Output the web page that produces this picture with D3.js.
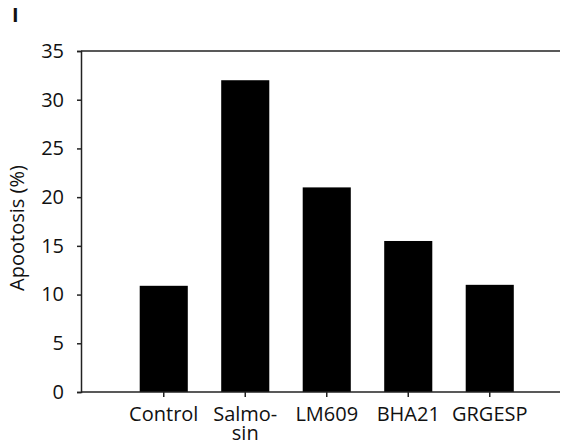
<!DOCTYPE html>
<html>
<head>
<meta charset="utf-8">
<script src="https://cdn.jsdelivr.net/npm/d3@7"></script>
<style>
  body { margin: 0; background: #fff; }
  text { font-family: "Open Sans", "Noto Sans", sans-serif; fill: #111; }
</style>
</head>
<body>
<div id="chart"></div>
<script>
const categories = ['Control', 'Salmosin', 'LM609', 'BHA21', 'GRGESP'];
const apoptosis = [10.9, 32.0, 21.0, 15.5, 11.0];
const yTicks = [0, 5, 10, 15, 20, 25, 30, 35];

const width = 564;
const height = 445;
const margin = { top: 51, bottom: 53, left: 81, right: 4 };
const fontSize = 20;

const svg = d3.select('#chart')
  .append('svg')
  .attr('width', width)
  .attr('height', height);

const x = d3.scaleBand()
  .domain(categories)
  .range([123, 530.5])
  .paddingInner(0.41)
  .paddingOuter(0.205);

const y = d3.scaleLinear()
  .domain([0, 35])
  .range([height - margin.bottom, margin.top]);

// bars
svg.append('g')
  .attr('fill', '#000')
  .selectAll('rect')
  .data(categories)
  .join('rect')
    .attr('x', d => x(d))
    .attr('y', (d, i) => y(apoptosis[i]))
    .attr('width', x.bandwidth())
    .attr('height', (d, i) => y(0) - y(apoptosis[i]));

// frame lines: top and bottom run across the full width
const x0 = margin.left, x1 = width - margin.right;
svg.append('line')
  .attr('x1', x0).attr('x2', x1)
  .attr('y1', y(35)).attr('y2', y(35))
  .attr('stroke', '#222').attr('stroke-width', 1.5);
svg.append('line')
  .attr('x1', x0).attr('x2', x1)
  .attr('y1', y(0)).attr('y2', y(0))
  .attr('stroke', '#222').attr('stroke-width', 1.5);

// y axis
const yAxis = svg.append('g')
  .attr('transform', `translate(${margin.left},0)`)
  .call(d3.axisLeft(y).tickValues(yTicks).tickSize(4).tickPadding(13));
yAxis.select('.domain').attr('stroke', '#222').attr('stroke-width', 1.5);
yAxis.selectAll('.tick line').attr('stroke', '#222').attr('stroke-width', 1.5);
yAxis.selectAll('.tick text')
  .attr('font-size', fontSize)
  .attr('fill', '#111')
  .style('font-family', '"Open Sans", sans-serif');

// x axis
const xAxis = svg.append('g')
  .attr('transform', `translate(0,${y(0)})`)
  .call(d3.axisBottom(x).tickSize(5).tickSizeOuter(0).tickFormat(''));
xAxis.select('.domain').remove();
xAxis.selectAll('.tick line').attr('stroke', '#222').attr('stroke-width', 1.5);

const labelLines = { Salmosin: ['Salmo-', 'sin'] };
xAxis.selectAll('.tick')
  .append('text')
  .attr('font-size', fontSize)
  .attr('text-anchor', 'middle')
  .attr('fill', '#111')
  .style('font-family', '"Open Sans", sans-serif')
  .each(function(d) {
    const lines = labelLines[d] || [d];
    d3.select(this).selectAll('tspan')
      .data(lines)
      .join('tspan')
        .attr('x', 0)
        .attr('y', (l, i) => 29 + i * 19)
        .text(l => l);
  });

// y axis title
svg.append('text')
  .attr('transform', 'translate(24,228) rotate(-90)')
  .attr('text-anchor', 'middle')
  .attr('font-size', fontSize)
  .text('Apootosis (%)');

// panel label
svg.append('text')
  .attr('x', 12).attr('y', 22)
  .attr('font-size', fontSize)
  .attr('font-weight', 700)
  .text('I');
</script>
</body>
</html>
